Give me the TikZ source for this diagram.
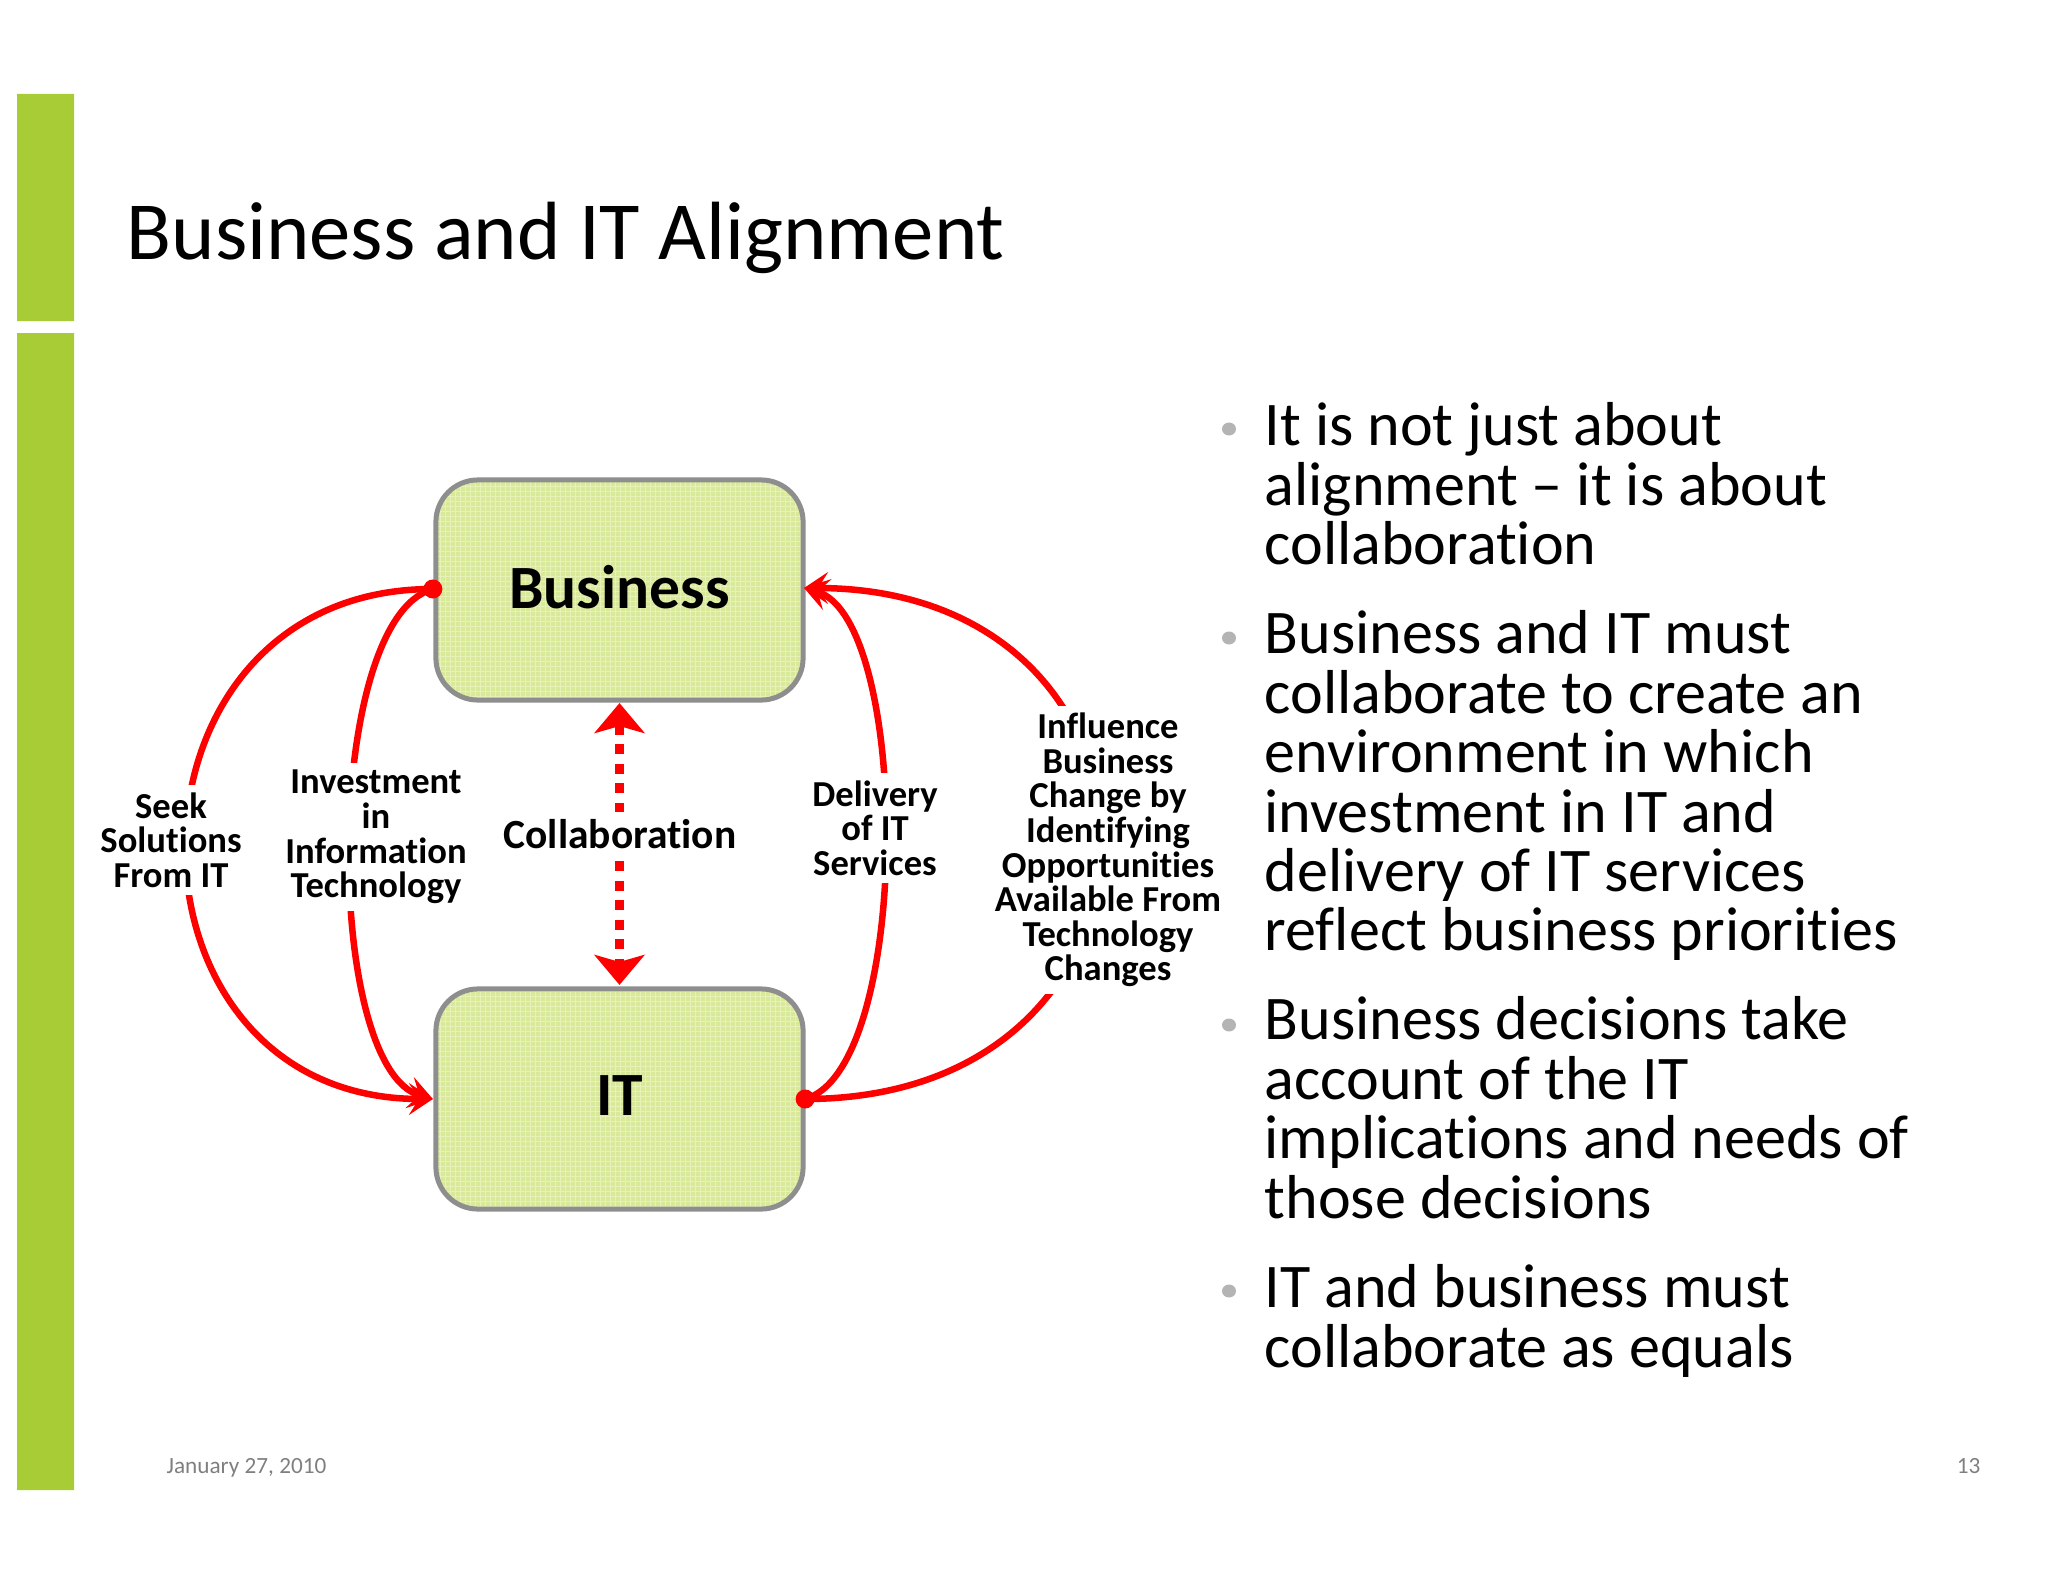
\documentclass[tikz,border=0pt]{standalone}
\usepackage{fontspec}
\setmainfont{Carlito}[Ligatures=NoCommon]
\usetikzlibrary{arrows.meta,shapes.geometric,patterns.meta}
\definecolor{barGreen}{HTML}{A8CC35}
\definecolor{boxGreen}{HTML}{D9E99A}
\definecolor{boxWeave}{HTML}{E6F2B6}
\definecolor{boxEdge}{HTML}{8E8E8E}
\definecolor{dotGray}{HTML}{B4B4B4}
\definecolor{footGray}{HTML}{7F7F7F}
\tikzset{
	block/.style={draw=boxEdge,line width=.05cm,rounded corners=.42cm,minimum width=3.67cm,minimum height=2.2cm,outer sep=0pt,text depth=.07cm,font=\fontsize{17.5}{20}\selectfont\bfseries,
		preaction={fill=boxGreen},pattern={Hatch[angle=0,distance=.05cm,line width=.014cm]},pattern color=boxWeave},
	link/.style={red,line width=.065cm,-{Stealth[length=.24cm,width=.32cm,inset=.1cm]}},
	label/.style={fill=white,inner xsep=0pt,inner ysep=.07cm,align=center,font=\fontsize{10.4}{9.85}\selectfont\bfseries},
	body/.style={anchor=north west,inner sep=0pt,align=left,font=\fontsize{17.65}{16.9}\selectfont},
	foot/.style={footGray,inner sep=0pt,font=\fontsize{6.6}{8}\selectfont},
	reddot/.style={circle,fill=red,inner sep=0pt,minimum size=.19cm},
	bulletdot/.style={ellipse,fill=dotGray,inner sep=0pt,minimum width=.14cm,minimum height=.13cm},
}
\begin{document}
\begin{tikzpicture}[x=.01cm,y=-.01cm]
	\useasboundingbox (0,0) rectangle (2048,1582);
	\fill[barGreen] (17,94) rectangle (74,321) (17,333) rectangle (74,1490);
	\node[anchor=base west,inner sep=0pt,font=\fontsize{23.5}{26}\selectfont] (title) at (126,260) {Business and IT Alignment};
	\node[block] (business) at (619.5,590) {Business};
	\node[block] (it) at (619.5,1099) {IT};
	\path (business.west)++(-3,-1) coordinate (bizL) (business.east)++(1,-2) coordinate (bizR)
	(it.west)++(-3,0) coordinate (itL) (it.east)++(2,0) coordinate (itR);
	\draw[link] (bizL) .. controls +(-328,0) and +(-328,0) .. (itL);
	\draw[link] (bizL) .. controls +(-110,30) and +(-110,-30) .. (itL);
	\draw[link] (itR) .. controls +(107,-30) and +(107,30) .. (bizR);
	\draw[link] (itR) .. controls +(394,0) and +(394,0) .. (bizR);
	\draw[red,line width=.09cm,dash pattern=on .1cm off .095cm,{Stealth[length=.3cm,width=.5cm,inset=.07cm]}-{Stealth[length=.3cm,width=.5cm,inset=.07cm]}] (business.south)++(0,3) -- ([yshift=.04cm]it.north);
	\foreach \x in {bizL,itR} \node[reddot] at (\x) {};
	\node[label] (seek) at (171,840) {Seek\\Solutions\\From IT};
	\node[label] (invest) at (376,837) {Investment\\in\\Information\\Technology};
	\node[label] (deliver) at (875,828) {Delivery\\of IT\\Services};
	\node[label] (influence) at (1108,850) {Influence\\Business\\Change by\\Identifying\\Opportunities\\Available From\\Technology\\Changes};
	\node[label,font=\fontsize{11.8}{12}\selectfont\bfseries] (collab) at (620,834) {Collaboration};
	\foreach \n/\b/\t/\txt in {1/429/402/It is not just about\\alignment – it is about\\collaboration,
		2/638/610/Business and IT must\\collaborate to create an\\environment in which\\investment in IT and\\delivery of IT services\\reflect business priorities,
		3/1025/996/Business decisions take\\account of the IT\\implications and needs of\\those decisions,
		4/1291/1264/IT and business must\\collaborate as equals}
	{\node[bulletdot] (dot\n) at (1229,\b) {};
	\node[body] (text\n) at (1264,\t) {\txt};}
	\node[foot,anchor=west] (date) at (166,1468) {January 27, 2010};
	\node[foot,anchor=east] (page) at (1981,1466) {13};
\end{tikzpicture}
\end{document}
